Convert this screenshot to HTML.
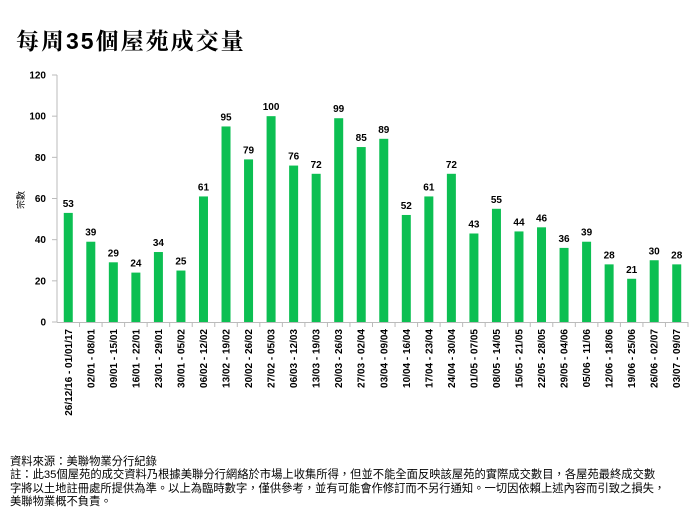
<!DOCTYPE html>
<html><head><meta charset="utf-8"><style>
body{margin:0;background:#fff;width:700px;height:525px;overflow:hidden}
svg{display:block}
.n{font-family:"Liberation Sans","Noto Sans CJK TC",sans-serif;font-weight:bold;font-size:10px;fill:#000}
.foot{position:absolute;left:10px;top:456px;font-family:"Liberation Sans","Noto Sans CJK TC",sans-serif;font-size:11.3px;line-height:13.3px;color:#000;width:690px;white-space:nowrap}
</style></head><body>
<div style="position:relative;width:700px;height:525px">
<svg width="700" height="525" xmlns="http://www.w3.org/2000/svg">
<text x="16" y="49" style="font-family:'Noto Serif CJK SC','Liberation Serif',serif;font-weight:bold;font-size:23px;letter-spacing:2px">每周<tspan style="font-family:'Liberation Sans',sans-serif;font-weight:bold">35</tspan>個屋苑成交量</text>
<line x1="57" y1="75" x2="57" y2="322" stroke="#bbb" stroke-width="1"/>
<line x1="57" y1="322.5" x2="688" y2="322.5" stroke="#bbb" stroke-width="1"/>
<g id="yt"></g>
<g id="bars"></g>
<text class="n" transform="translate(24,200) rotate(-90)" text-anchor="middle" style="font-weight:normal;font-size:9px">宗數</text>
</svg>
<div class="foot">資料來源：美聯物業分行紀錄<br>註：此35個屋苑的成交資料乃根據美聯分行網絡於市場上收集所得，但並不能全面反映該屋苑的實際成交數目，各屋苑最終成交數<br>字將以土地註冊處所提供為準。以上為臨時數字，僅供參考，並有可能會作修訂而不另行通知。一切因依賴上述內容而引致之損失，<br>美聯物業概不負責。</div>
</div>
<script>
var NS="http://www.w3.org/2000/svg";
function el(t,a,p,txt){var e=document.createElementNS(NS,t);for(var k in a)e.setAttribute(k,a[k]);if(txt!=null)e.textContent=txt;p.appendChild(e);return e;}
var yt=document.getElementById('yt'),bg=document.getElementById('bars');
var y0=322,ppu=247/120;
for(var v=0;v<=120;v+=20){var y=y0-v*ppu;el('line',{x1:52,x2:57,y1:y,y2:y,stroke:'#bbb'},yt);el('text',{x:46,y:y+3.5,'text-anchor':'end','class':'n'},yt,v);}
var d=[53,39,29,24,34,25,61,95,79,100,76,72,99,85,89,52,61,72,43,55,44,46,36,39,28,21,30,28];
var L=["26/12/16 - 01/01/17","02/01 - 08/01","09/01 - 15/01","16/01 - 22/01","23/01 - 29/01","30/01 - 05/02","06/02 - 12/02","13/02 - 19/02","20/02 - 26/02","27/02 - 05/03","06/03 - 12/03","13/03 - 19/03","20/03 - 26/03","27/03 - 02/04","03/04 - 09/04","10/04 - 16/04","17/04 - 23/04","24/04 - 30/04","01/05 - 07/05","08/05 - 14/05","15/05 - 21/05","22/05 - 28/05","29/05 - 04/06","05/06 - 11/06","12/06 - 18/06","19/06 - 25/06","26/06 - 02/07","03/07 - 09/07"];
var sw=631/28;
for(var i=0;i<28;i++){var cx=57+sw*(i+0.5);var h=d[i]*ppu;
el('rect',{x:cx-4.5,y:y0-h,width:9,height:h,fill:'#0cbf52'},bg);
el('text',{x:cx,y:y0-h-6,'text-anchor':'middle','class':'n'},bg,d[i]);
var xt=57+sw*(i+1);el('line',{x1:xt,x2:xt,y1:322,y2:327,stroke:'#bbb'},bg);
el('text',{'class':'n','text-anchor':'end',transform:'translate('+(cx+3.5)+',329) rotate(-90)'},bg,L[i]);}
</script>
</body></html>
